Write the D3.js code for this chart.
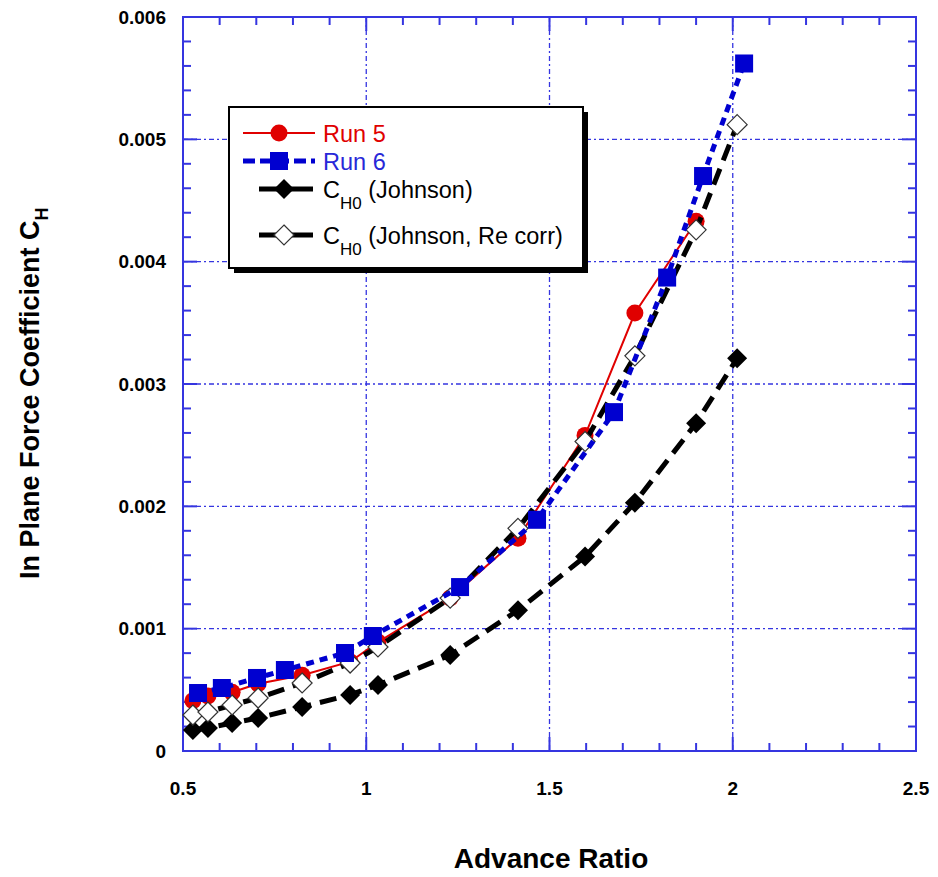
<!DOCTYPE html>
<html>
<head>
<meta charset="utf-8">
<script src="https://cdn.jsdelivr.net/npm/d3@7"></script>
<style>
body{margin:0;background:#fff;}
svg{display:block;font-family:"Liberation Sans",Arial,sans-serif;}
</style>
</head>
<body>
<svg id="chart" width="938" height="877"></svg>
<script>
'use strict';

// advance ratio of the Johnson predictions (also used for run 5)
var muJ=[0.527,0.568,0.634,0.705,0.825,0.956,1.032,1.229,1.414,1.597,1.733,1.900,2.012];
var chJohnson=[0.000172,0.000188,0.000229,0.00027,0.00036,0.000458,0.00054,0.000785,0.00115,0.00159,0.00203,0.00268,0.00321];
var chReCorr=[0.000294,0.000319,0.000376,0.000433,0.000556,0.000719,0.00085,0.00125,0.00182,0.00253,0.00323,0.00426,0.00512];
var mu5=[0.527,0.568,0.634,0.705,0.825,0.956,1.032,1.229,1.414,1.597,1.733,1.900];
var ch5=[0.00041,0.00045,0.00048,0.00055,0.00062,0.00073,0.00089,0.00125,0.00174,0.00258,0.00358,0.00433];
var mu6=[0.541,0.606,0.702,0.778,0.942,1.018,1.256,1.466,1.676,1.821,1.919,2.031];
var ch6=[0.000474,0.000515,0.000597,0.000662,0.000801,0.00094,0.00134,0.00189,0.00277,0.00387,0.0047,0.00562];
var xTicks=[0.5,1,1.5,2,2.5];
var yTicks=[0,0.001,0.002,0.003,0.004,0.005,0.006];
var yLabels=['0','0.001','0.002','0.003','0.004','0.005','0.006'];

var blue='#3535e0', red='#e00000', navy='#0000d0';
var svg=d3.select('#chart')
  , L=183, R=916, T=17, B=751
  , x=d3.scaleLinear().domain([0.5,2.5]).range([L,R])
  , y=d3.scaleLinear().domain([0,0.006]).range([B,T])
  , minorX=d3.range(0.5,2.5001,0.1)
  , minorY=d3.range(0,0.00601,0.0002)

function zip(a,b){return a.map(function(v,i){return [v,b[i]];});}

// grid
var grid=svg.append('g').attr('stroke',blue).attr('stroke-width',1.3).attr('stroke-dasharray','5,3,2,3');
grid.selectAll('.gx').data(xTicks.slice(1,-1)).enter().append('line')
    .attr('x1',function(d){return x(d);}).attr('x2',function(d){return x(d);})
    .attr('y1',T).attr('y2',B);
grid.selectAll('.gy').data(yTicks.slice(1,-1)).enter().append('line')
    .attr('y1',function(d){return y(d);}).attr('y2',function(d){return y(d);})
    .attr('x1',L).attr('x2',R);

// axes with inward ticks on all four sides
function isMajor(v,step){return Math.abs(v/step-Math.round(v/step))<1e-6;}
var ax=svg.append('g').attr('stroke',blue).attr('stroke-width',2);
minorX.forEach(function(v){
    var s=isMajor(v,0.5)?14:8;
    ax.append('line').attr('x1',x(v)).attr('x2',x(v)).attr('y1',B).attr('y2',B-s);
    ax.append('line').attr('x1',x(v)).attr('x2',x(v)).attr('y1',T).attr('y2',T+s);
});
minorY.forEach(function(v){
    var s=isMajor(v,0.001)?14:8;
    ax.append('line').attr('y1',y(v)).attr('y2',y(v)).attr('x1',L).attr('x2',L+s);
    ax.append('line').attr('y1',y(v)).attr('y2',y(v)).attr('x1',R).attr('x2',R-s);
});
ax.append('rect').attr('x',L).attr('y',T).attr('width',R-L).attr('height',B-T).attr('fill','none');

// tick labels
svg.selectAll('.xl').data(xTicks).enter().append('text')
    .attr('x',function(d){return x(d);}).attr('y',795)
    .attr('text-anchor','middle').attr('font-size',19).attr('font-weight','bold')
    .text(function(d){return d;});
svg.selectAll('.yl').data(yTicks).enter().append('text')
    .attr('x',166).attr('y',function(d){return y(d);}).attr('dy','0.35em')
    .attr('text-anchor','end').attr('font-size',19).attr('font-weight','bold')
    .text(function(d,i){return yLabels[i];});

// axis titles
svg.append('text').attr('x',551).attr('y',868).attr('text-anchor','middle')
    .attr('font-size',28).attr('font-weight','bold').text('Advance Ratio');
var yt=svg.append('text').attr('transform','translate(39,579) rotate(-90)')
    .attr('font-size',27).attr('font-weight','bold');
yt.append('tspan').text('In Plane Force Coefficient C');
yt.append('tspan').attr('font-size',18).attr('dy',9).text('H');

// markers
function marker(g,type,px,py){
    if(type=='circle')
        return g.append('circle').attr('cx',px).attr('cy',py).attr('r',8.5).attr('fill',red);
    if(type=='square')
        return g.append('rect').attr('x',px-9).attr('y',py-9).attr('width',18).attr('height',18).attr('fill',navy);
    return g.append('path')
        .attr('d',['M',px,py-10,'L',px+10,py,'L',px,py+10,'L',px-10,py,'Z'].join(' '))
        .attr('fill',type=='diamond'?'#000':'#fff')
        .attr('stroke',type=='diamond'?'none':'#333').attr('stroke-width',1.2);
}

var series=[
    {xs:muJ,ys:chJohnson,color:'#000',width:5,dash:'17,9',type:'diamond'},
    {xs:mu5,ys:ch5,color:red,width:2,dash:null,type:'circle'},
    {xs:muJ,ys:chReCorr,color:'#000',width:5,dash:'17,9',type:'open'},
    {xs:mu6,ys:ch6,color:navy,width:5,dash:'8,6',type:'square'}
];
var line=d3.line().x(function(d){return x(d[0]);}).y(function(d){return y(d[1]);});
series.forEach(function(s){
    var g=svg.append('g');
    g.append('path').attr('d',line(zip(s.xs,s.ys))).attr('fill','none')
        .attr('stroke',s.color).attr('stroke-width',s.width)
        .attr('stroke-dasharray',s.dash);
    zip(s.xs,s.ys).forEach(function(p){marker(g,s.type,x(p[0]),y(p[1]));});
});

// legend
var lg=svg.append('g');
lg.append('rect').attr('x',234).attr('y',112).attr('width',354).attr('height',161).attr('fill','#000');
lg.append('rect').attr('x',229).attr('y',107).attr('width',354).attr('height',161)
    .attr('fill','#fff').attr('stroke','#000').attr('stroke-width',2);
var items=[
    {y:133,x1:243,x2:315,s:series[1],label:'Run 5',sub:null,rest:null,tc:red},
    {y:161,x1:243,x2:315,s:series[3],label:'Run 6',sub:null,rest:null,tc:'#2828d8'},
    {y:189,x1:259,x2:313,s:series[0],label:'C',sub:'H0',rest:' (Johnson)',tc:'#000'},
    {y:235,x1:259,x2:313,s:series[2],label:'C',sub:'H0',rest:' (Johnson, Re corr)',tc:'#000'}
];
items.forEach(function(it){
    lg.append('line').attr('x1',it.x1).attr('x2',it.x2).attr('y1',it.y).attr('y2',it.y)
        .attr('stroke',it.s.color).attr('stroke-width',it.s.width)
        .attr('stroke-dasharray',it.s.type=='square'?'12,5':null);
    marker(lg,it.s.type,(it.x1+it.x2)/2+(it.sub?-2:0),it.y);
    var t=lg.append('text').attr('x',323).attr('y',it.y+9).attr('font-size',23.5).attr('fill',it.tc);
    t.append('tspan').text(it.label);
    if(it.sub){
        t.append('tspan').attr('font-size',17).attr('dy',11).text(it.sub);
        t.append('tspan').attr('dy',-11).text(it.rest);
    }
});
</script>
</body>
</html>
